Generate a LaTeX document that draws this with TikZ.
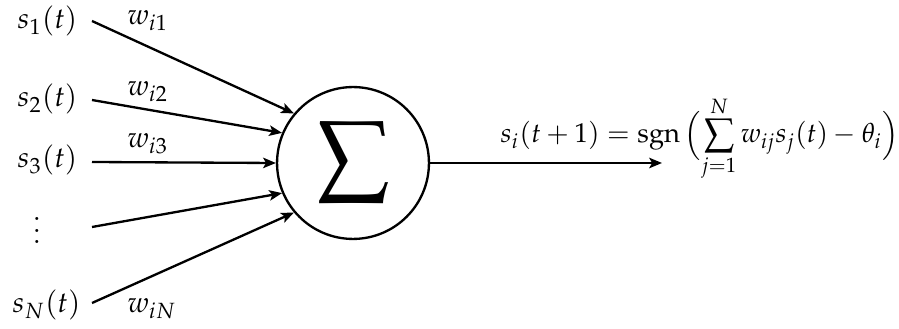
\documentclass[tikz,border=0pt]{standalone}
\usepackage{amsmath}
\usepackage{mathpazo}
\usetikzlibrary{arrows.meta}
\begin{document}
\begin{tikzpicture}[x=0.345pt,y=-0.345pt,
  lbl/.style={inner sep=0pt,anchor=base west},
  conn/.style={line width=0.8pt,-{Stealth[length=4.4pt,width=3.6pt,inset=1pt]}},
  neuron/.style={circle,draw,line width=0.8pt,minimum size=52.4pt,inner sep=0pt}]
\useasboundingbox (0,0) rectangle (899,329);
% inputs
\node[lbl] (s1) at (17,29) {$s_1(t)$};
\node[lbl] (s2) at (17,107) {$s_2(t)$};
\node[lbl] (s3) at (17,168) {$s_3(t)$};
\node[inner sep=0pt] (dots) at (37,222) {$\vdots$};
\node[lbl] (sN) at (12,313) {$s_N(t)$};
% weights
\node[lbl] (w1) at (127,25) {$w_{i1}$};
\node[lbl] (w2) at (127,96) {$w_{i2}$};
\node[lbl] (w3) at (127,148) {$w_{i3}$};
\node[lbl] (wN) at (127,313) {$w_{iN}$};
% neuron
\node[neuron] (sum) at (353,163) {\scalebox{2.25}{$\displaystyle\sum$}};
% connector start points
\coordinate (a1) at (92,21);
\coordinate (a2) at (92,100);
\coordinate (a3) at (92,162);
\coordinate (a4) at (92,227);
\coordinate (a5) at (92,303);
\draw[conn] (a1) -- (sum.140);
\draw[conn] (a2) -- (sum.157);
\draw[conn] (a3) -- (sum.180);
\draw[conn] (a4) -- (sum.203);
\draw[conn] (a5) -- (sum.220);
% output
\coordinate (out) at (662,163);
\draw[conn] (sum.east) -- (out);
\node[inner sep=0pt,anchor=base west] (f) at (500,143) {\scalebox{0.94}{$\displaystyle s_i(t+1) = \operatorname{sgn}\Big(\!\sum_{j=1}^{N} w_{ij}s_j(t) - \theta_i\Big)$}};
\end{tikzpicture}
\end{document}
